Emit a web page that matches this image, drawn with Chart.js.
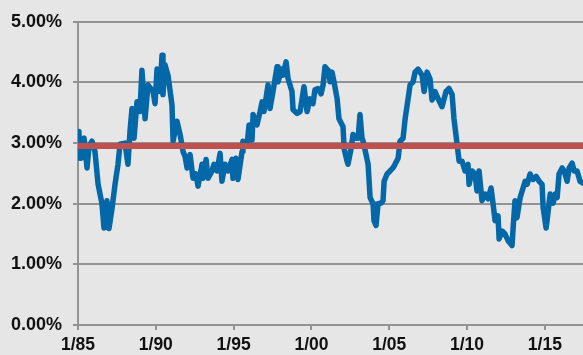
<!DOCTYPE html>
<html>
<head>
<meta charset="utf-8">
<script src="https://cdn.jsdelivr.net/npm/chart.js@4"></script>
<style>
  html, body { margin: 0; padding: 0; background: #e6e6e6; }
  #wrap { width: 583px; height: 355px; }
</style>
</head>
<body>
<div id="wrap"><canvas id="rate-chart" width="583" height="355"></canvas></div>
<script>
// dates as decimal years, values in percent
const years = [
  1985.06, 1985.13, 1985.19, 1985.39, 1985.58, 1985.71, 1985.90, 1986.09, 1986.29, 1986.54,
  1986.67, 1986.86, 1986.99, 1987.19, 1987.38, 1987.57, 1987.70, 1988.02, 1988.21, 1988.34,
  1988.47, 1988.60, 1988.79, 1988.98, 1989.11, 1989.31, 1989.50, 1989.82, 1989.95, 1990.08,
  1990.27, 1990.40, 1990.46, 1990.59, 1990.78, 1991.04, 1991.11, 1991.36, 1991.56, 1991.75,
  1991.88, 1992.01, 1992.20, 1992.39, 1992.58, 1992.71, 1992.97, 1993.03, 1993.23, 1993.36,
  1993.61, 1993.74, 1993.93, 1994.13, 1994.25, 1994.45, 1994.64, 1994.90, 1994.96, 1995.15,
  1995.28, 1995.54, 1995.60, 1995.86, 1995.99, 1996.18, 1996.25, 1996.50, 1996.70, 1996.83,
  1996.95, 1997.21, 1997.34, 1997.53, 1997.79, 1997.85, 1998.11, 1998.18, 1998.37, 1998.50,
  1998.75, 1998.82, 1999.08, 1999.27, 1999.40, 1999.52, 1999.72, 1999.91, 2000.10, 2000.23,
  2000.42, 2000.62, 2000.75, 2000.87, 2001.07, 2001.20, 2001.32, 2001.45, 2001.65, 2001.77,
  2002.03, 2002.10, 2002.29, 2002.35, 2002.55, 2002.67, 2002.87, 2003.00, 2003.12, 2003.25,
  2003.32, 2003.51, 2003.64, 2003.77, 2003.96, 2004.02, 2004.15, 2004.28, 2004.47, 2004.60,
  2004.67, 2004.86, 2005.05, 2005.24, 2005.37, 2005.57, 2005.69, 2005.89, 2006.02, 2006.21,
  2006.34, 2006.53, 2006.66, 2006.85, 2007.11, 2007.24, 2007.43, 2007.62, 2007.75, 2007.94,
  2008.14, 2008.39, 2008.65, 2008.84, 2009.04, 2009.16, 2009.36, 2009.49, 2009.68, 2009.87,
  2010.06, 2010.13, 2010.32, 2010.51, 2010.64, 2010.77, 2010.96, 2011.16, 2011.35, 2011.54,
  2011.67, 2011.80, 2011.99, 2012.06, 2012.25, 2012.44, 2012.64, 2012.89, 2012.96, 2013.08,
  2013.21, 2013.41, 2013.60, 2013.73, 2013.86, 2014.05, 2014.24, 2014.44, 2014.63, 2014.82,
  2014.89, 2015.08, 2015.14, 2015.34, 2015.53, 2015.66, 2015.79, 2015.91, 2016.11, 2016.24,
  2016.43, 2016.56, 2016.75, 2016.88, 2017.07, 2017.26, 2017.45
];
const rates = [
  3.19, 2.75, 3.05, 3.08, 2.59, 2.95, 3.03, 2.86, 2.32, 2.00,
  1.60, 2.05, 1.59, 1.93, 2.32, 2.65, 2.98, 3.00, 2.65, 3.19,
  3.57, 3.08, 3.68, 3.52, 4.20, 3.40, 3.96, 3.85, 3.65, 4.22,
  3.85, 4.45, 3.80, 4.29, 4.12, 3.63, 3.03, 3.36, 3.14, 2.86,
  2.78, 2.59, 2.81, 2.42, 2.49, 2.29, 2.65, 2.42, 2.73, 2.42,
  2.54, 2.65, 2.54, 2.83, 2.37, 2.65, 2.54, 2.73, 2.42, 2.75,
  2.40, 2.86, 3.03, 2.95, 3.30, 3.05, 3.47, 3.30, 3.52, 3.68,
  3.52, 3.96, 3.57, 3.85, 4.26, 4.01, 4.22, 4.12, 4.34, 4.06,
  3.85, 3.55, 3.49, 3.52, 3.73, 3.93, 3.52, 3.73, 3.65, 3.88,
  3.90, 3.81, 3.96, 4.26, 4.20, 4.01, 4.17, 4.01, 3.73, 3.40,
  3.27, 2.91, 2.70, 2.65, 2.91, 3.14, 3.08, 3.08, 3.47, 3.08,
  3.03, 2.81, 2.65, 2.10, 2.00, 1.72, 1.64, 2.00, 2.01, 2.05,
  2.37, 2.49, 2.54, 2.59, 2.65, 2.75, 3.03, 3.08, 3.40, 3.73,
  3.96, 4.01, 4.17, 4.22, 4.12, 3.85, 4.17, 4.06, 3.71, 3.85,
  3.73, 3.60, 3.85, 3.90, 3.80, 3.40, 2.98, 2.70, 2.70, 2.54,
  2.65, 2.32, 2.54, 2.49, 2.21, 2.54, 2.05, 2.16, 2.08, 2.26,
  2.00, 1.72, 1.80, 1.42, 1.55, 1.50, 1.39, 1.31, 1.60, 2.05,
  1.77, 2.10, 2.26, 2.37, 2.32, 2.49, 2.40, 2.45, 2.37, 2.32,
  1.93, 1.60, 1.72, 2.16, 2.01, 2.16, 2.10, 2.49, 2.59, 2.54,
  2.37, 2.59, 2.67, 2.54, 2.54, 2.37, 2.34
];
const averageRate = 2.95;
const xStart = 1985;
const xEnd = 2017.45;
const xTicks = [1985, 1990, 1995, 2000, 2005, 2010, 2015];
const xTickLabels = ['1/85', '1/90', '1/95', '1/00', '1/05', '1/10', '1/15'];
const yTicks = [0, 1, 2, 3, 4, 5];

const gridGray = '#939393';
const fontFamily = 'Liberation Sans, Arial, sans-serif';

const ctx = document.getElementById('rate-chart').getContext('2d');
new Chart(ctx, {
  type: 'line',
  data: {
    datasets: [
      {
        data: [{ x: xStart, y: averageRate }, { x: xEnd, y: averageRate }],
        borderColor: '#c0504d',
        borderWidth: 6,
        pointRadius: 0,
        fill: false
      },
      {
        data: years.map((yr, i) => ({ x: yr, y: rates[i] })),
        borderColor: '#0467a8',
        borderWidth: 5.5,
        borderJoinStyle: 'round',
        borderCapStyle: 'round',
        pointRadius: 0,
        tension: 0,
        fill: false
      }
    ]
  },
  options: {
    responsive: false,
    animation: false,
    layout: { padding: { top: 19, right: 0, left: 0, bottom: 0 } },
    plugins: { legend: { display: false }, tooltip: { enabled: false } },
    scales: {
      x: {
        type: 'linear',
        min: xStart,
        max: xEnd,
        afterBuildTicks: scale => { scale.ticks = xTicks.map(v => ({ value: v })); },
        afterFit: scale => { scale.height = 30; },
        grid: { drawOnChartArea: false, drawTicks: true, tickLength: 5, color: gridGray, lineWidth: 2 },
        border: { display: true, color: gridGray, width: 2 },
        ticks: {
          padding: 5,
          color: '#111',
          font: { family: fontFamily, size: 17.5, weight: 'bold' },
          maxRotation: 0,
          callback: v => xTickLabels[xTicks.indexOf(v)]
        }
      },
      y: {
        min: 0,
        max: 5,
        afterBuildTicks: scale => { scale.ticks = yTicks.map(v => ({ value: v })); },
        afterFit: scale => { scale.width = 78; },
        grid: { color: gridGray, lineWidth: 2, tickLength: 5 },
        border: { display: true, color: gridGray, width: 2 },
        ticks: {
          padding: 11,
          color: '#111',
          font: { family: fontFamily, size: 18, weight: 'bold' },
          callback: v => v.toFixed(2) + '%'
        }
      }
    }
  }
});
</script>
</body>
</html>
